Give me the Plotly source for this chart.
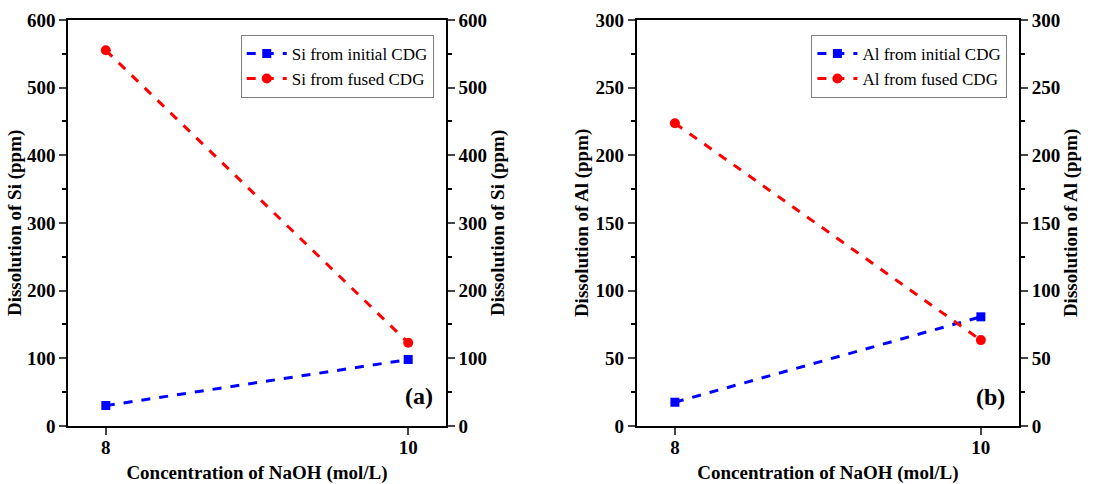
import plotly.graph_objects as go

conc = [8, 10]
si_initial = [30, 98]
si_fused = [555, 123]
al_initial = [17.5, 80.6]
al_fused = [223.6, 63.4]

FONT = "Liberation Serif"
BLUE = "#0000FF"
RED = "#FF0000"

fig = go.Figure()

def add_pair(xa, ya_left, ya_right, leg, init, fused, el):
    fig.add_trace(go.Scatter(x=conc, y=init, xaxis=xa, yaxis=ya_left, legend=leg,
                             name=f"{el} from initial CDG", mode="lines+markers",
                             line=dict(color=BLUE, width=3, dash="dash"),
                             marker=dict(symbol="square", size=9, color=BLUE)))
    fig.add_trace(go.Scatter(x=conc, y=fused, xaxis=xa, yaxis=ya_right, legend=leg,
                             name=f"{el} from fused CDG", mode="lines+markers",
                             line=dict(color=RED, width=3, dash="dash"),
                             marker=dict(symbol="circle", size=10, color=RED)))

add_pair("x", "y", "y3", "legend", si_initial, si_fused, "Si")
add_pair("x2", "y2", "y4", "legend2", al_initial, al_fused, "Al")

tickfont = dict(family=FONT, size=19, color="black", weight="bold")
titlefont = dict(family=FONT, size=19, color="black", weight="bold")

def xaxis(dom, anchor):
    return dict(domain=dom, anchor=anchor, range=[7.75, 10.25], tickvals=conc,
                ticks="outside", ticklen=7, tickwidth=1.5, showline=True, linewidth=1.5,
                linecolor="black", mirror=True, showgrid=False, zeroline=False,
                tickfont=tickfont, automargin=False, ticklabelstandoff=-3,
                title=dict(text="Concentration of NaOH (mol/L)", font=titlefont, standoff=12))

def yaxis(rng, dt, mdt, anchor, title, side="left", overlay=None, standoff=0):
    d = dict(range=rng, dtick=dt, ticks="outside", ticklen=7, tickwidth=1.5,
             minor=dict(dtick=mdt, ticks="outside", ticklen=4, tickwidth=1.5, tickcolor="black"),
             showline=True, linewidth=1.5, linecolor="black", showgrid=False,
             zeroline=False, tickfont=tickfont, anchor=anchor, side=side, automargin=False,
             title=dict(text=title, font=titlefont, standoff=standoff))
    if overlay:
        d["overlaying"] = overlay
    else:
        d["domain"] = [0.12, 0.959]
    return d

legfont = dict(family=FONT, size=17, color="black")

fig.update_layout(
    width=1115, height=484,
    margin=dict(l=0, r=0, t=0, b=0, autoexpand=False),
    paper_bgcolor="white", plot_bgcolor="white",
    showlegend=True,
    xaxis=xaxis([0.061, 0.400], "y"),
    xaxis2=xaxis([0.571, 0.914], "y2"),
    yaxis=yaxis([0, 600], 100, 50, "x", "Dissolution of Si (ppm)"),
    yaxis2=yaxis([0, 300], 50, 25, "x2", "Dissolution of Al (ppm)", standoff=2),
    yaxis3=yaxis([0, 600], 100, 50, "x", "Dissolution of Si (ppm)", side="right", overlay="y", standoff=4),
    yaxis4=yaxis([0, 300], 50, 25, "x2", "Dissolution of Al (ppm)", side="right", overlay="y2", standoff=4),
    legend=dict(x=0.389, y=0.928, xanchor="right", yanchor="top",
                bordercolor="#808080", borderwidth=1, bgcolor="white",
                font=legfont, tracegroupgap=0, itemwidth=40),
    legend2=dict(x=0.9035, y=0.928, xanchor="right", yanchor="top",
                 bordercolor="#808080", borderwidth=1, bgcolor="white",
                 font=legfont, tracegroupgap=0, itemwidth=40),
    annotations=[
        dict(text="(a)", x=0.376, y=0.181, xref="paper", yref="paper", showarrow=False,
             xanchor="center", yanchor="middle",
             font=dict(family=FONT, size=24, color="black", weight="bold")),
        dict(text="(b)", x=0.888, y=0.179, xref="paper", yref="paper", showarrow=False,
             xanchor="center", yanchor="middle",
             font=dict(family=FONT, size=24, color="black", weight="bold")),
    ],
)

fig.write_html("out.html")
